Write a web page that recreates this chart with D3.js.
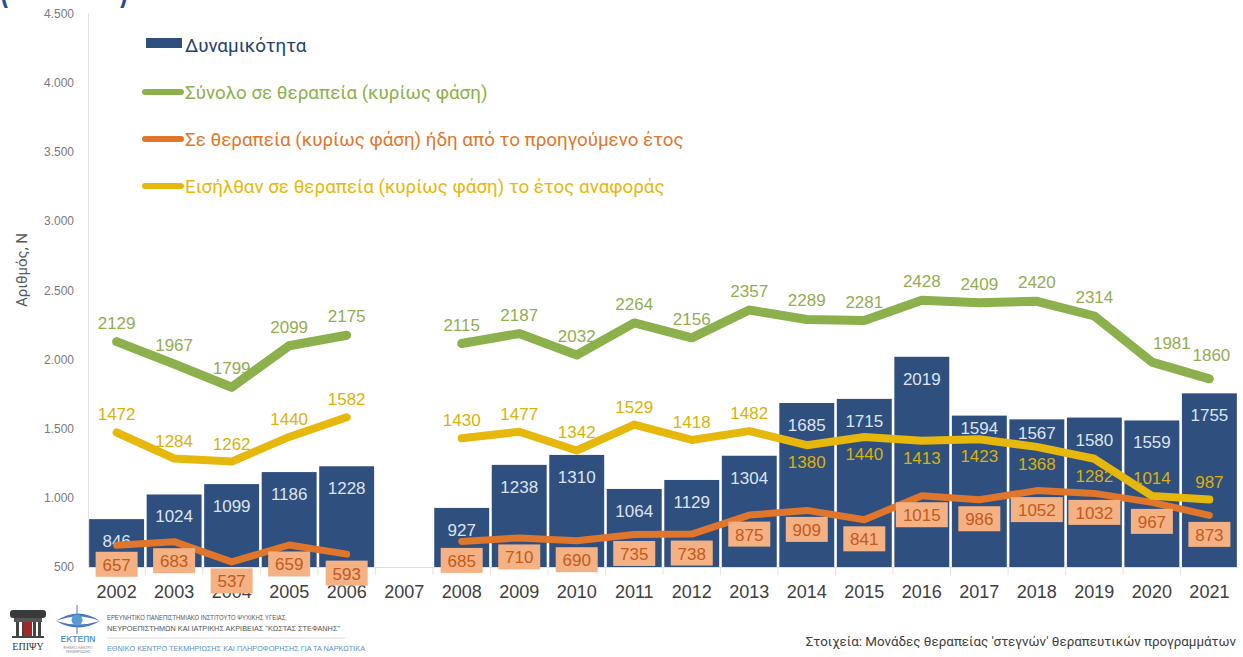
<!DOCTYPE html>
<html><head><meta charset="utf-8">
<script src="https://cdn.jsdelivr.net/npm/d3@7"></script>
<style>
html,body{margin:0;padding:0;background:#fff;}
svg{display:block;}
</style></head>
<body>
<svg id="chart" width="1243" height="657"></svg>
<script>
// ---------- DATA ----------
const years = ["2002","2003","2004","2005","2006","2007","2008","2009","2010","2011","2012","2013","2014","2015","2016","2017","2018","2019","2020","2021"];
const capacity = [846,1024,1099,1186,1228,null,927,1238,1310,1064,1129,1304,1685,1715,2019,1594,1567,1580,1559,1755];
const totalTreat = [2129,1967,1799,2099,2175,null,2115,2187,2032,2264,2156,2357,2289,2281,2428,2409,2420,2314,1981,1860];
const prevYear = [657,683,537,659,593,null,685,710,690,735,738,875,909,841,1015,986,1052,1032,967,873];
const entered = [1472,1284,1262,1440,1582,null,1430,1477,1342,1529,1418,1482,1380,1440,1413,1423,1368,1282,1014,987];
const yTicks = [500,1000,1500,2000,2500,3000,3500,4000,4500];
const seriesNames = ["Δυναμικότητα","Σύνολο σε θεραπεία (κυρίως φάση)","Σε θεραπεία (κυρίως φάση) ήδη από το προηγούμενο έτος","Εισήλθαν σε θεραπεία (κυρίως φάση) το έτος αναφοράς"];
const yTitle = "Αριθμός, N";
const sourceText = "Στοιχεία: Μονάδες θεραπείας 'στεγνών' θεραπευτικών προγραμμάτων";

// ---------- STYLE ----------
const C = {bar:"#2f4f7f", green:"#8cb04b", orange:"#e0762b", yellow:"#e6b80c",
  box:"#f4b183", boxText:"#c55a1b", greenText:"#93ad52", yellowText:"#d9b20a", barText:"#dbe4f0"};
const FONT = "'Liberation Sans', Arial, sans-serif";

const svg = d3.select("#chart");
const x = d3.scaleBand().domain(years).range([88,1238]).paddingInner(0.045).paddingOuter(0.02);
const y = d3.scaleLinear().domain([500,4500]).range([567,13.5]);
const cx = d => x(d) + x.bandwidth()/2;
const loc = d3.formatLocale({decimal:",", thousands:".", grouping:[3], currency:["","€"]});
const fmt = loc.format(",d");

// title remnant (cut off at top edge, only the parentheses' bottoms show)
svg.append("text").attr("x",0).attr("y",0).attr("font-family",FONT).attr("font-size",36)
  .attr("font-weight","bold").attr("fill","#1f4e9c").attr("textLength",128)
  .attr("lengthAdjust","spacingAndGlyphs").text("(2002-2021)");

// y axis
const yAxis = svg.append("g").attr("transform","translate(88,0)")
  .call(d3.axisLeft(y).tickValues(yTicks).tickFormat(fmt).tickSize(0).tickPadding(14));
yAxis.select(".domain").attr("stroke","#e3e3e3");
yAxis.selectAll("text").attr("font-family",FONT).attr("font-size",12).attr("fill","#7a7a7a");

svg.append("text").attr("transform","translate(27,270) rotate(-90)").attr("text-anchor","middle")
  .attr("font-family","Roboto, sans-serif").attr("font-size",15).attr("fill","#595959").text(yTitle);

// x axis
const xAxis = svg.append("g").attr("transform","translate(0,567)")
  .call(d3.axisBottom(x).tickSize(0).tickPadding(18));
xAxis.select(".domain").attr("stroke","#dedede");
xAxis.selectAll("text").attr("font-family",FONT).attr("font-size",18).attr("fill","#404040");
svg.append("g").selectAll("line").data(years.slice(1)).join("line")
  .attr("x1",d=>x(d)-x.step()*x.paddingInner()/2).attr("x2",d=>x(d)-x.step()*x.paddingInner()/2)
  .attr("y1",567).attr("y2",575).attr("stroke","#e3e3e3");

// bars
const idx = d3.range(years.length);
svg.append("g").selectAll("rect").data(idx.filter(i=>capacity[i]!=null)).join("rect")
  .attr("x",i=>x(years[i])).attr("width",x.bandwidth())
  .attr("y",i=>y(capacity[i])).attr("height",i=>y(500)-y(capacity[i]))
  .attr("fill",C.bar);
const barLabelOff = {"2017":18, "2018":20};
svg.append("g").selectAll("text").data(idx.filter(i=>capacity[i]!=null)).join("text")
  .attr("x",i=>cx(years[i])).attr("y",i=>y(capacity[i])+(barLabelOff[years[i]]||28)).attr("text-anchor","middle")
  .attr("font-family",FONT).attr("font-size",17).attr("fill",C.barText).text(i=>capacity[i]);

// lines
function drawLine(vals,color,w){
  const line = d3.line().defined(i=>vals[i]!=null).x(i=>cx(years[i])).y(i=>y(vals[i]))
    .curve(d3.curveLinear);
  svg.append("path").datum(idx).attr("d",line).attr("fill","none").attr("stroke",color)
    .attr("stroke-width",w).attr("stroke-linecap","round").attr("stroke-linejoin","round");
}
drawLine(prevYear,C.orange,7);
drawLine(entered,C.yellow,8);
drawLine(totalTreat,C.green,9);

// green labels
svg.append("g").selectAll("text").data(idx.filter(i=>totalTreat[i]!=null)).join("text")
  .attr("x",i=>cx(years[i]) + (years[i]==="2020"?20:(years[i]==="2021"?2:0)))
  .attr("y",i=>y(totalTreat[i]) - (years[i]==="2021"?18:13)).attr("text-anchor","middle")
  .attr("font-family",FONT).attr("font-size",17).attr("fill",C.greenText).text(i=>totalTreat[i]);

// yellow labels
const below = new Set(["2014","2015","2016","2017","2018","2019"]);
svg.append("g").selectAll("text").data(idx.filter(i=>entered[i]!=null)).join("text")
  .attr("x",i=>cx(years[i]))
  .attr("y",i=>y(entered[i]) + (below.has(years[i]) ? 23 : -12))
  .attr("text-anchor","middle")
  .attr("font-family",FONT).attr("font-size",17).attr("fill",C.yellowText).text(i=>entered[i]);

// orange labels with boxes
const og = svg.append("g").selectAll("g").data(idx.filter(i=>prevYear[i]!=null)).join("g")
  .attr("transform",i=>`translate(${cx(years[i])},${y(prevYear[i])+19})`);
og.append("rect").attr("x",i=>String(prevYear[i]).length>3?-26:-21).attr("width",i=>String(prevYear[i]).length>3?52:42)
  .attr("y",-12.5).attr("height",25).attr("fill",C.box);
og.append("text").attr("text-anchor","middle").attr("y",6.5)
  .attr("font-family",FONT).attr("font-size",17).attr("fill",C.boxText).text(i=>prevYear[i]);

// legend
const lg = svg.append("g");
const LF = "Roboto, sans-serif";
lg.append("rect").attr("x",146).attr("y",38).attr("width",36).attr("height",10).attr("fill",C.bar);
const legendRows = [
  {t:seriesNames[0], c:"#26406b", y:45, line:null},
  {t:seriesNames[1], c:C.green, y:92, line:C.green},
  {t:seriesNames[2], c:C.orange, y:139, line:C.orange},
  {t:seriesNames[3], c:C.yellow, y:186, line:C.yellow}
];
legendRows.forEach(r=>{
  if(r.line) lg.append("line").attr("x1",145).attr("x2",181).attr("y1",r.y).attr("y2",r.y)
    .attr("stroke",r.line).attr("stroke-width",6).attr("stroke-linecap","round");
  lg.append("text").attr("x",185).attr("y",r.y).attr("dy","0.35em")
    .attr("font-family",LF).attr("font-size",18.8).attr("fill",r.c).text(r.t);
});

// source
svg.append("text").attr("x",1236).attr("y",641).attr("dy","0.35em").attr("text-anchor","end")
  .attr("font-family",LF).attr("font-size",13.4).attr("fill","#404040").text(sourceText);

// logos (simplified)
const lo = svg.append("g");
lo.append("rect").attr("x",10).attr("y",610).attr("width",36).attr("height",8).attr("rx",3).attr("fill","#3a3a3a");
lo.append("rect").attr("x",14).attr("y",618).attr("width",28).attr("height",4).attr("fill","#555");
[16,22,33,38].forEach(px=>lo.append("rect").attr("x",px).attr("y",622).attr("width",3).attr("height",14).attr("fill","#444"));
lo.append("rect").attr("x",24).attr("y",622).attr("width",8).attr("height",14).attr("fill","#a02828");
lo.append("rect").attr("x",12).attr("y",636).attr("width",32).attr("height",2).attr("fill","#444");
lo.append("text").attr("x",28).attr("y",650).attr("text-anchor","middle").attr("font-family","'Liberation Serif', serif")
  .attr("font-size",10).attr("fill","#333").text("ΕΠΙΨΥ");
lo.append("path").attr("d","M56,621 Q78,606 100,621 Q78,612 56,621 Z").attr("fill","#4a78b8");
lo.append("path").attr("d","M56,621 Q78,634 100,621 Q78,628 56,621 Z").attr("fill","#4a78b8");
lo.append("line").attr("x1",77).attr("x2",77).attr("y1",605).attr("y2",634).attr("stroke","#4a78b8").attr("stroke-width",1);
lo.append("circle").attr("cx",77).attr("cy",620).attr("r",5.5).attr("fill","#5b9bd5");
lo.append("text").attr("x",78).attr("y",642).attr("text-anchor","middle").attr("font-family",FONT)
  .attr("font-size",8.5).attr("font-weight","bold").attr("fill","#5b9bd5").text("ΕΚΤΕΠΝ");
lo.append("text").attr("x",78).attr("y",649).attr("text-anchor","middle").attr("font-family",FONT)
  .attr("font-size",3.5).attr("fill","#888").text("ΕΘΝΙΚΟ ΚΕΝΤΡΟ");
lo.append("text").attr("x",78).attr("y",653).attr("text-anchor","middle").attr("font-family",FONT)
  .attr("font-size",3.5).attr("fill","#888").text("ΤΕΚΜΗΡΙΩΣΗΣ");
lo.append("text").attr("x",107).attr("y",620).attr("font-family",FONT).attr("font-size",7)
  .attr("fill","#555").attr("textLength",180).attr("lengthAdjust","spacingAndGlyphs")
  .text("ΕΡΕΥΝΗΤΙΚΟ ΠΑΝΕΠΙΣΤΗΜΙΑΚΟ ΙΝΣΤΙΤΟΥΤΟ ΨΥΧΙΚΗΣ ΥΓΕΙΑΣ,");
lo.append("text").attr("x",107).attr("y",631).attr("font-family",FONT).attr("font-size",7)
  .attr("fill","#555").attr("textLength",233).attr("lengthAdjust","spacingAndGlyphs")
  .text("ΝΕΥΡΟΕΠΙΣΤΗΜΩΝ ΚΑΙ ΙΑΤΡΙΚΗΣ ΑΚΡΙΒΕΙΑΣ \"ΚΩΣΤΑΣ ΣΤΕΦΑΝΗΣ\"");
lo.append("line").attr("x1",107).attr("x2",345).attr("y1",638).attr("y2",638).attr("stroke","#d0d0d0").attr("stroke-width",0.8);
lo.append("text").attr("x",107).attr("y",651).attr("font-family",FONT).attr("font-size",7)
  .attr("fill","#5b8fc7").attr("textLength",258).attr("lengthAdjust","spacingAndGlyphs")
  .text("ΕΘΝΙΚΟ ΚΕΝΤΡΟ ΤΕΚΜΗΡΙΩΣΗΣ ΚΑΙ ΠΛΗΡΟΦΟΡΗΣΗΣ ΓΙΑ ΤΑ ΝΑΡΚΩΤΙΚΑ");
</script>
</body></html>
